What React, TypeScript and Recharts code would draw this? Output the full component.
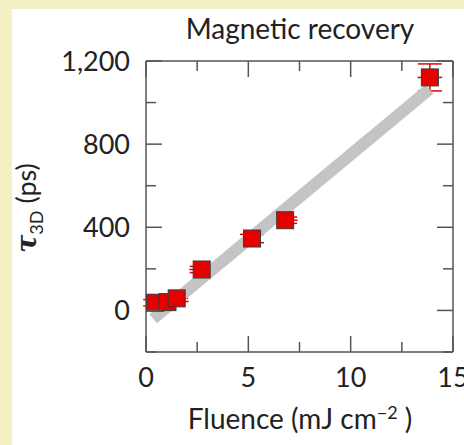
import { ScatterChart, Scatter, XAxis, YAxis, ErrorBar } from "recharts"

const fluence = [0.45, 1.05, 1.5, 2.72, 5.18, 6.8, 13.87]
const tau = [37, 40, 58, 197, 346, 434, 1121]
const fluenceErr = [0.3, 0.3, 0.55, 0.6, 0.3, 0.6, 0.6]
const tauErr = [15, 15, 15, 15, 20, 15, 65]

const fitX = [0.35, 13.85]
const fitY = [-40, 1065]

const xTicks = [0, 2.5, 5, 7.5, 10, 12.5, 15]
const yTicks = [-200, 0, 200, 400, 600, 800, 1000, 1200]

const points = fluence.map((x, i) => ({ x, y: tau[i], ex: fluenceErr[i], ey: tauErr[i] }))
const fit = fitX.map((x, i) => ({ x, y: fitY[i] }))

const FONT = "Lato, 'Open Sans', sans-serif"
const WEIGHT = 400
const AXIS = "#555"
const TEXT = "#222"

const isMajorX = (v: number) => v % 5 === 0
const isMajorY = (v: number) => v % 400 === 0

const BottomTick = ({ x, y, payload }: any) => {
  const major = isMajorX(payload.value)
  return (
    <g>
      <line x1={x} x2={x} y1={y} y2={y - (major ? 16 : 10)} stroke={AXIS} strokeWidth={1.5} />
      {major && (
        <text x={x} y={y + 35} textAnchor="middle" fill={TEXT} fontSize={27} fontFamily={FONT} fontWeight={WEIGHT}>
          {payload.value}
        </text>
      )}
    </g>
  )
}

const TopTick = ({ x, y, payload }: any) => {
  const major = isMajorX(payload.value)
  return <line x1={x} x2={x} y1={y} y2={y + (major ? 16 : 10)} stroke={AXIS} strokeWidth={1.5} />
}

const LeftTick = ({ x, y, payload }: any) => {
  const major = isMajorY(payload.value)
  return (
    <g>
      <line x1={x} x2={x + (major ? 16 : 10)} y1={y} y2={y} stroke={AXIS} strokeWidth={1.5} />
      {major && (
        <text x={x - 16} y={y} dy="0.36em" textAnchor="end" fill={TEXT} fontSize={27} fontFamily={FONT} fontWeight={WEIGHT}>
          {payload.value.toLocaleString("en-US")}
        </text>
      )}
    </g>
  )
}

const RightTick = ({ x, y, payload }: any) => {
  const major = isMajorY(payload.value)
  return <line x1={x} x2={x - (major ? 16 : 10)} y1={y} y2={y} stroke={AXIS} strokeWidth={1.5} />
}

const Square = ({ cx, cy }: any) => (
  <rect x={cx - 8.5} y={cy - 8.5} width={17} height={17} fill="#e60000" stroke="#3a3a3a" strokeWidth={1} />
)

export default function App() {
  const axisLine = { stroke: AXIS, strokeWidth: 1.5 }
  return (
    <div style={{ position: "absolute", left: 0, top: 0, width: 464, height: 445, background: "#f3f1c3", fontFamily: FONT, color: TEXT }}>
      <div style={{ position: "absolute", left: 12, top: 9, width: 452, height: 436, background: "#fff" }}>
        <ScatterChart width={452} height={436} margin={{ top: 51, right: 10, bottom: 92, left: 133 }}>
          <XAxis
            xAxisId="b"
            type="number"
            dataKey="x"
            domain={[0, 15]}
            ticks={xTicks}
            height={1}
            tickSize={0}
            tickMargin={0}
            tickLine={false}
            axisLine={axisLine}
            tick={BottomTick}
            interval={0}
            allowDataOverflow
          />
          <XAxis
            xAxisId="t"
            orientation="top"
            type="number"
            dataKey="x"
            domain={[0, 15]}
            ticks={xTicks}
            height={1}
            tickSize={0}
            tickMargin={0}
            tickLine={false}
            axisLine={axisLine}
            tick={TopTick}
            interval={0}
            allowDataOverflow
          />
          <YAxis
            yAxisId="l"
            type="number"
            dataKey="y"
            domain={[-200, 1200]}
            ticks={yTicks}
            width={1}
            tickSize={0}
            tickMargin={0}
            tickLine={false}
            axisLine={axisLine}
            tick={LeftTick}
            interval={0}
            allowDataOverflow
          />
          <YAxis
            yAxisId="r"
            orientation="right"
            type="number"
            dataKey="y"
            domain={[-200, 1200]}
            ticks={yTicks}
            width={1}
            tickSize={0}
            tickMargin={0}
            tickLine={false}
            axisLine={axisLine}
            tick={RightTick}
            interval={0}
            allowDataOverflow
          />
          <Scatter
            xAxisId="b"
            yAxisId="l"
            data={fit}
            line={{ stroke: "#c4c4c4", strokeWidth: 12 }}
            shape={() => <g />}
            isAnimationActive={false}
          />
          <Scatter xAxisId="b" yAxisId="l" data={points} shape={Square} isAnimationActive={false}>
            <ErrorBar dataKey="ex" direction="x" width={0.1} stroke="#e60000" strokeWidth={1.5} isAnimationActive={false} />
            <ErrorBar dataKey="ey" direction="y" width={12} stroke="#e60000" strokeWidth={1.5} isAnimationActive={false} />
          </Scatter>
        </ScatterChart>
      </div>
      <div style={{ position: "absolute", left: 150, width: 300, top: 11, textAlign: "center", fontSize: 28, fontWeight: WEIGHT, whiteSpace: "nowrap" }}>
        Magnetic recovery
      </div>
      <div style={{ position: "absolute", left: 150, width: 300, top: 401, textAlign: "center", fontSize: 28, fontWeight: WEIGHT, whiteSpace: "nowrap" }}>
        Fluence (mJ cm<sup style={{ fontSize: 18 }}>−2</sup> )
      </div>
      <div
        style={{
          position: "absolute",
          left: 28,
          top: 208,
          transform: "translate(-50%, -50%) rotate(-90deg)",
          fontSize: 27,
          fontWeight: WEIGHT,
          whiteSpace: "nowrap",
        }}
      >
        <i style={{ fontFamily: "'DejaVu Serif', serif", fontWeight: 700 }}>τ</i>
        <sub style={{ fontSize: 18 }}>3D</sub> (ps)
      </div>
    </div>
  )
}
